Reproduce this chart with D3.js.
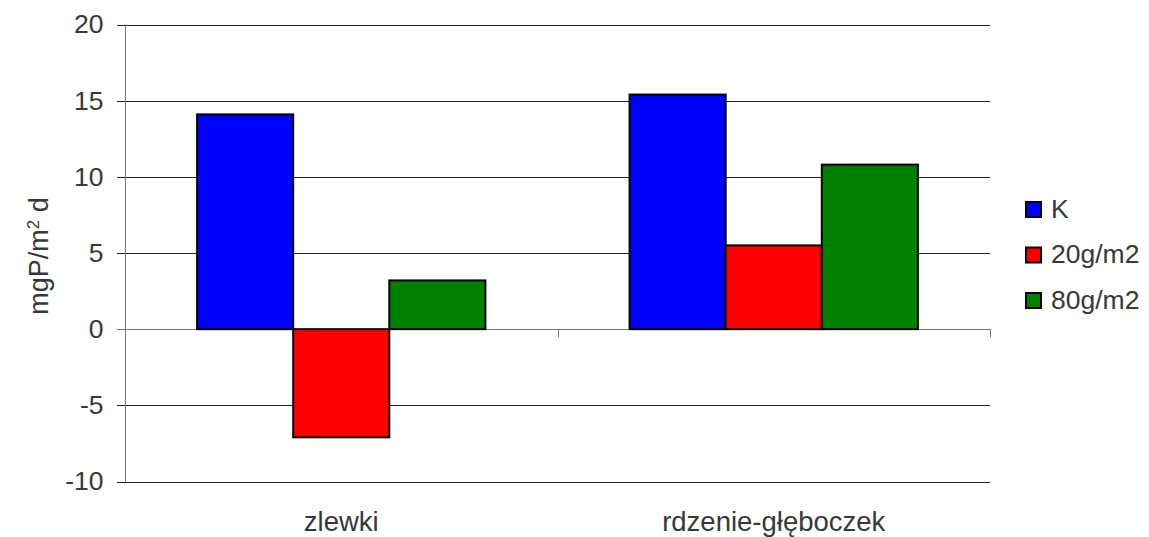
<!DOCTYPE html>
<html>
<head>
<meta charset="utf-8">
<script src="https://cdn.jsdelivr.net/npm/d3@7"></script>
<style>
body{margin:0;background:#fff;}
svg{display:block;font-family:"Liberation Sans",Arial,sans-serif;}
</style>
</head>
<body>
<div class="chart"></div>
<script>
var width = 1149, height = 537;
var categories = ["zlewki","rdzenie-głęboczek"];
var seriesNames = ["K","20g/m2","80g/m2"];
var colorArray = ["#0000ff","#ff0000","#008000"];
var valuesK = [14.1, 15.4];
var values20 = [-7.1, 5.5];
var values80 = [3.2, 10.8];
var yTicks = [-10,-5,0,5,10,15,20];
var allValues = [valuesK, values20, values80];

var margin = {left:125, right:159, top:24.5, bottom:55.5};
var svg = d3.select(".chart").append("svg")
	.attr("width",width)
	.attr("height",height);

var x0 = d3.scaleBand()
	.domain(categories)
	.range([margin.left, width-margin.right])
	.padding(0);
var x1 = d3.scaleBand()
	.domain(seriesNames)
	.range([0, x0.bandwidth()])
	.paddingInner(0)
	.paddingOuter(0.75);
var y = d3.scaleLinear()
	.domain([-10,20])
	.range([height-margin.bottom, margin.top]);

//grid
svg.append("g").selectAll("line").data(yTicks).enter().append("line")
	.attr("x1",margin.left-8)
	.attr("x2",width-margin.right)
	.attr("y1",function(d){ return Math.round(y(d))+0.5; })
	.attr("y2",function(d){ return Math.round(y(d))+0.5; })
	.attr("stroke",function(d){ return d==0 ? "#777" : "#222"; })
	.attr("stroke-width",1);

//y axis
var yAxis = svg.append("g")
	.attr("transform","translate("+(margin.left+0.5)+",0)")
	.call(d3.axisLeft(y).tickValues(yTicks).tickSize(8).tickPadding(14)
		.tickFormat(function(d){ return String(d); }));
yAxis.select(".domain").attr("stroke","#777").attr("d","M0,"+y(20)+"V"+y(-10));
yAxis.selectAll(".tick line").remove();
yAxis.selectAll("text").attr("font-size",26.5).attr("fill","#383838").attr("font-family","Liberation Sans, Arial, sans-serif");

//x ticks on zero line
var xBounds = [margin.left].concat(categories.map(function(c){ return x0(c)+x0.bandwidth(); }));
svg.append("g").selectAll("line").data(xBounds).enter().append("line")
	.attr("x1",function(d){ return Math.round(d)+0.5; })
	.attr("x2",function(d){ return Math.round(d)+0.5; })
	.attr("y1",Math.round(y(0)))
	.attr("y2",Math.round(y(0))+8)
	.attr("stroke","#777");

svg.append("g").selectAll("text").data(categories).enter().append("text")
	.attr("x",function(d){ return x0(d)+x0.bandwidth()/2; })
	.attr("y",530.5)
	.attr("text-anchor","middle")
	.attr("font-size",27.5)
	.attr("fill","#383838")
	.text(function(d){ return d; });

//bars
for(var s=0; s<seriesNames.length; s++){
	svg.append("g").selectAll("rect").data(allValues[s]).enter().append("rect")
		.attr("x",function(d,i){ return x0(categories[i])+x1(seriesNames[s]); })
		.attr("width",x1.bandwidth())
		.attr("y",function(d){ return y(Math.max(0,d)); })
		.attr("height",function(d){ return Math.abs(y(d)-y(0)); })
		.attr("fill",colorArray[s])
		.attr("stroke","#000")
		.attr("stroke-width",2);
}

//y label
svg.append("text")
	.attr("transform","translate(48,256) rotate(-90)")
	.attr("text-anchor","middle")
	.attr("font-size",27)
	.attr("fill","#383838")
	.html('mgP/m<tspan baseline-shift="super" font-size="17">2</tspan> d');

//legend
var legend = svg.append("g").selectAll("g").data(seriesNames).enter().append("g")
	.attr("transform",function(d,i){ return "translate(1026,"+(202+i*45.5)+")"; });
legend.append("rect")
	.attr("width",15).attr("height",15)
	.attr("fill",function(d,i){ return colorArray[i]; })
	.attr("stroke","#000").attr("stroke-width",2);
legend.append("text")
	.attr("x",25).attr("y",15.5)
	.attr("font-size",26.5)
	.attr("fill","#383838")
	.text(function(d){ return d; });
</script>
</body>
</html>
